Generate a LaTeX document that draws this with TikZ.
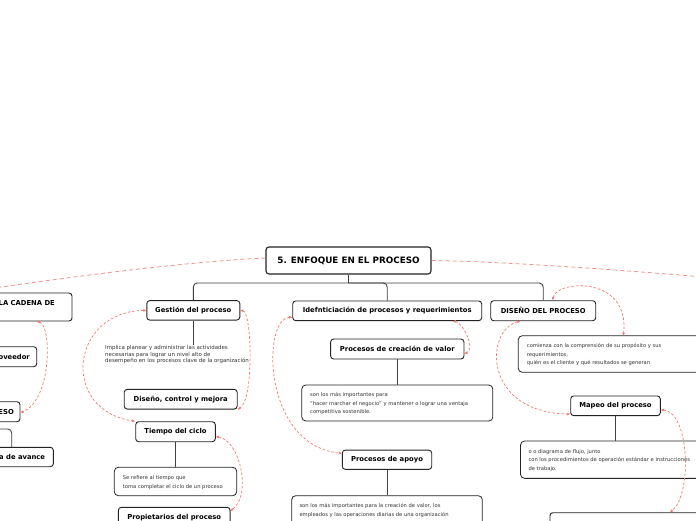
\documentclass[tikz,border=0pt]{standalone}
\usepackage{fontspec}
\setmainfont{DejaVu Sans}
\usetikzlibrary{arrows.meta}
\definecolor{dred}{RGB}{240,120,110}
\definecolor{edge}{RGB}{35,35,35}
\begin{document}
\begin{tikzpicture}[x=1pt,y=-1pt,
  box/.style={draw=edge, line width=0.9pt, rounded corners=3pt, fill=white, inner sep=0pt, font=\bfseries\fontsize{6.8}{8}\selectfont},
  tbox/.style={draw=edge, line width=0.8pt, rounded corners=4pt, fill=white, inner sep=0pt},
  small/.style={inner sep=0pt, align=left, font=\fontsize{5.2}{8.7}\selectfont, text=black!80},
  btxt/.style={inner sep=0pt, anchor=east, font=\bfseries\fontsize{6.8}{8}\selectfont},
  tree/.style={draw=black!75, line width=0.9pt, rounded corners=4pt},
  link/.style={draw=dred, line width=0.7pt, dash pattern=on 2.5pt off 2pt, {Latex[length=3pt,width=3pt]}-{Latex[length=3pt,width=3pt]}},
  far/.style={draw=dred!80, line width=0.8pt, dash pattern=on 4pt off 3pt},
]
\useasboundingbox (0,0) rectangle (696,520);
\fill[white] (0,0) rectangle (696,520);
\clip (0,0) rectangle (696,520);

% long links
\coordinate (leftfar) at (-60,296);
\coordinate (rightfar) at (760,282);

% main
\node[box, line width=1.1pt, minimum width=165pt, minimum height=27pt, font=\bfseries\fontsize{8.8}{10}\selectfont] (main) at (348.5,260.5) {5. ENFOQUE EN EL PROCESO};
\draw[far] ([yshift=2.5pt]main.west) .. controls (180,262) and (60,278) .. (leftfar);
\draw[far] (main.east) .. controls (520,262) and (650,272) .. (rightfar);

% left partial branch
\node[box, minimum width=102pt, minimum height=28pt] (cadena) at (21,307) {};
\node[btxt] (cadenatxt) at (55,303) {LA CADENA DE};
\node[box, minimum width=76.7pt, minimum height=20pt] (prov) at (-1.65,356.7) {};
\node[btxt] (provtxt) at (30,356.7) {oveedor};
\node[box, minimum width=60pt, minimum height=20pt] (eso) at (-10,411.7) {};
\node[btxt] (esotxt) at (14,411.7) {ESO};
\node[box, minimum width=83.3pt, minimum height=19.4pt] (avance) at (11.7,457) {};
\node[btxt] (avtxt) at (45.3,457) {a de avance};
\coordinate (lt) at (-20,429);
\draw[tree] (lt) -| (avance.north);
\draw[link] ([xshift=15.7pt]cadena.south) .. controls (52,325) and (52,400) .. ([yshift=-1pt]eso.east);

% Gestion branch
\node[box, minimum width=93pt, minimum height=19.5pt] (gestion) at (193.3,310.3) {Gestión del proceso};
\node[small, anchor=west, font=\fontsize{5.45}{6.5}\selectfont] (implica) at (105,354.5) {Implica planear y administrar las actividades\\necesarias para lograr un nivel alto de\\desempeño en los procesos clave de la organización};
\node[box, minimum width=113pt, minimum height=19.7pt] (diseno) at (180.7,399.2) {Diseño, control y mejora};
\node[box, minimum width=79.6pt, minimum height=20pt] (tiempo) at (175.5,431.7) {Tiempo del ciclo};
\node[tbox, minimum width=122.4pt, minimum height=28.4pt] (refiere) at (175.5,481.5) {};
\node[small, anchor=west] (refieretxt) at (122.7,482.8) {Se refiere al tiempo que\\toma completar el ciclo de un proceso};
\node[box, minimum width=111.7pt, minimum height=20pt] (prop) at (174.2,517.3) {Propietarios del proceso};
\draw[tree] (gestion.south) -- (gestion.south |- implica.north);
\draw[tree] (tiempo) -- (refiere);
\draw[link] (gestion.west) .. controls (70,312) and (60,410) .. (tiempo.north west);
\draw[link] (gestion.east) .. controls (252,312) and (254,400) .. (diseno.south east);
\draw[link] ([yshift=-5pt]tiempo.east) .. controls (240,440) and (252,495) .. ([yshift=-4pt]prop.north east);

% Idef branch
\node[box, minimum width=189pt, minimum height=19.7pt] (idef) at (387.2,310.8) {Idefnticiación de procesos y requerimientos};
\node[box, minimum width=133.3pt, minimum height=20pt] (creacion) at (397.3,349) {Procesos de creación de valor};
\node[tbox, minimum width=191pt, minimum height=36pt] (imp1) at (397.3,403) {};
\node[small, anchor=west] (imp1txt) at (310,403.7) {son los más importantes para\\"hacer marchar el negocio" y mantener o lograr una ventaja\\competitiva sostenible.};
\node[box, minimum width=89.4pt, minimum height=19.3pt] (apoyo) at (387,459.7) {Procesos de apoyo};
\node[tbox, minimum width=190.6pt, minimum height=29.6pt] (imp2) at (387,510.5) {};
\node[small, anchor=west] (imp2txt) at (299.3,510.5) {son los más importantes para la creación de valor, los\\empleados y las operaciones diarias de una organización};
\draw[tree] (creacion) -- (imp1);
\draw[tree] (apoyo) -- (imp2);
\draw[link] ([xshift=65.5pt]idef.south) .. controls (462,322) and (476,348) .. ([yshift=-5pt]creacion.east);
\draw[link] ([yshift=-6.5pt]idef.west) .. controls (262,318) and (262,445) .. ([yshift=6.4pt]apoyo.west);

% Diseno del proceso branch
\node[box, minimum width=105pt, minimum height=20pt] (dp) at (543.2,310.7) {DISEÑO DEL PROCESO};
\node[tbox, minimum width=190pt, minimum height=36.6pt] (comienza) at (613.3,354) {};
\node[small, anchor=west] (comtxt) at (526.7,354.7) {comienza con la comprensión de su propósito y sus\\requerimientos,\\quién es el cliente y qué resultados se generan};
\node[box, minimum width=89.6pt, minimum height=19.7pt] (mapeo) at (615.5,405.8) {Mapeo del proceso};
\node[tbox, minimum width=190pt, minimum height=37.3pt] (flujo) at (615.5,459.7) {};
\node[small, anchor=west] (flujotxt) at (528.3,460.4) {o o diagrama de flujo, junto\\con los procedimientos de operación estándar e instrucciones\\de trabajo.};
\node[box, minimum width=170pt, minimum height=27pt] (final) at (635,526.2) {};
\draw[tree] (mapeo) -- (flujo);
\draw[link] ([xshift=9.5pt]dp.north) .. controls (556,280) and (630,275) .. (623.3,335.7);
\draw[link] ([xshift=30pt]dp.south west) .. controls (485,330) and (482,412) .. ([yshift=2pt]mapeo.south west);
\draw[link] ([yshift=-4pt]mapeo.east) .. controls (690,412) and (692,495) .. ([xshift=35pt]final.north);

% tree from main
\coordinate (bus) at (348.5,283);
\draw[tree] (main.south) -- (bus);
\draw[tree] (bus) -| (gestion.north);
\draw[tree] (bus) -| (idef.north);
\draw[tree] (bus) -| (dp.north);
\end{tikzpicture}
\end{document}
